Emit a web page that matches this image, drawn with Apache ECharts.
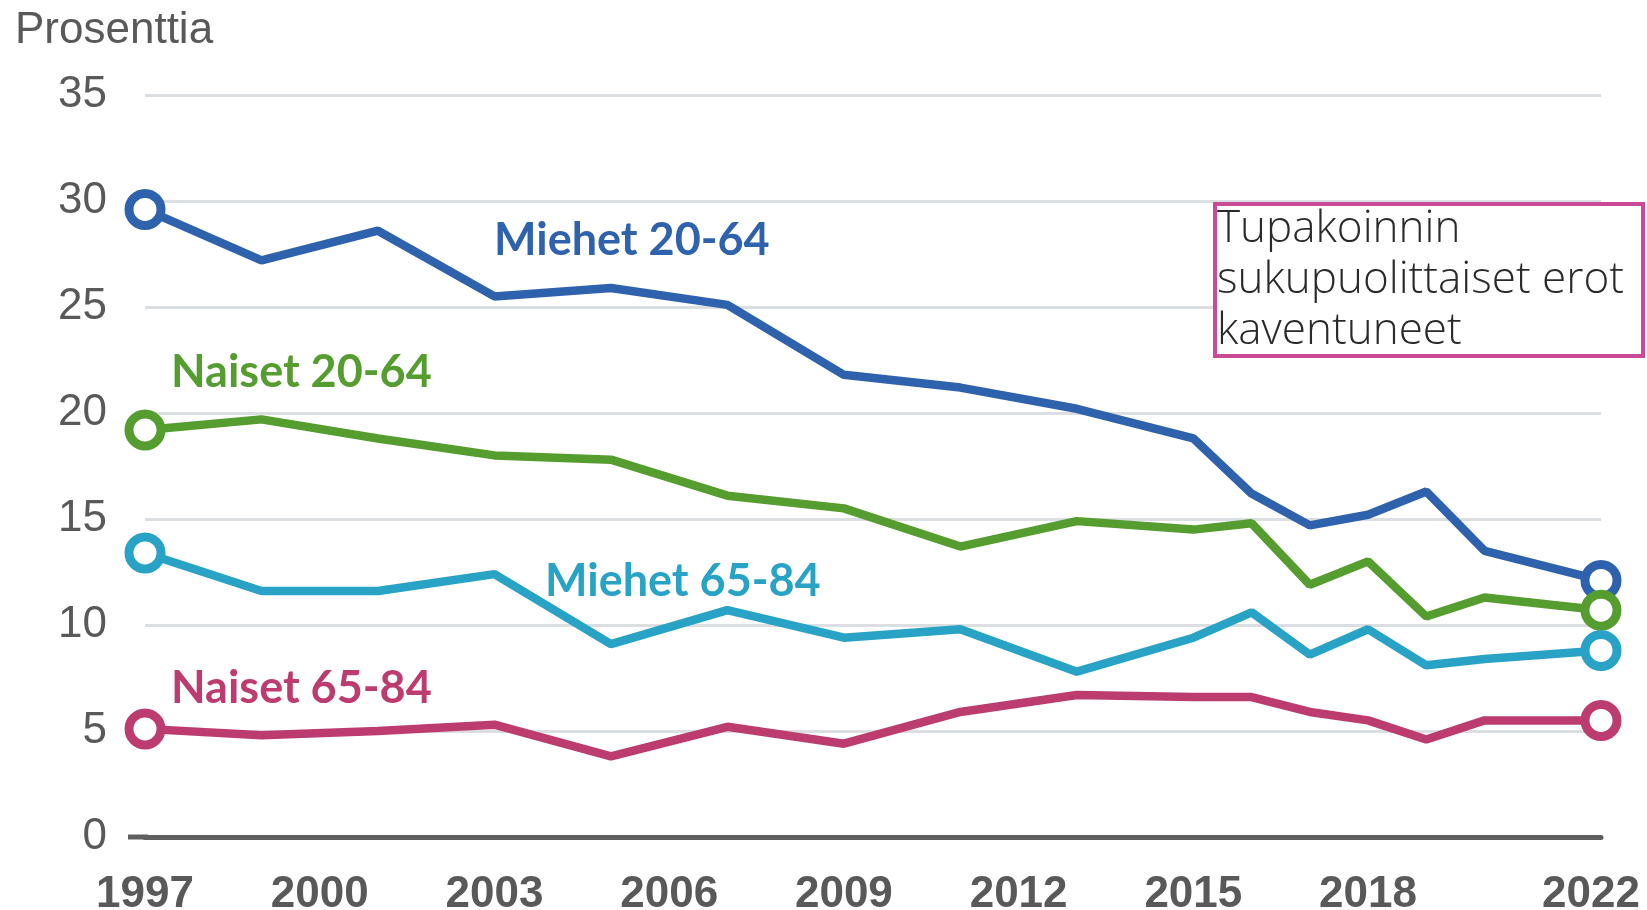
<!DOCTYPE html>
<html>
<head>
<meta charset="utf-8">
<script src="https://cdn.jsdelivr.net/npm/echarts@6/dist/echarts.min.js"></script>
<style>
  html, body { margin: 0; padding: 0; background: #ffffff; }
  #chart { width: 1647px; height: 910px; }
</style>
</head>
<body>
<div id="chart"></div>
<script>
const years = [1997, 1999, 2001, 2003, 2005, 2007, 2009, 2011, 2013, 2015, 2016, 2017, 2018, 2019, 2020, 2022]
const yearTicks = [1997, 2000, 2003, 2006, 2009, 2012, 2015, 2018, 2022]

const miehet2064 = [29.6, 27.2, 28.6, 25.5, 25.9, 25.1, 21.8, 21.2, 20.2, 18.8, 16.2, 14.7, 15.2, 16.3, 13.5, 12.1]
const naiset2064 = [19.2, 19.7, 18.8, 18.0, 17.8, 16.1, 15.5, 13.7, 14.9, 14.5, 14.8, 11.9, 13.0, 10.4, 11.3, 10.7]
const miehet6584 = [13.4, 11.6, 11.6, 12.4, 9.1, 10.7, 9.4, 9.8, 7.8, 9.4, 10.6, 8.6, 9.8, 8.1, 8.4, 8.8]
const naiset6584 = [5.1, 4.8, 5.0, 5.3, 3.8, 5.2, 4.4, 5.9, 6.7, 6.6, 6.6, 5.9, 5.5, 4.6, 5.5, 5.5]

const seriesDefs = [
  { name: 'Miehet 20-64', values: miehet2064, color: '#2f62ad' },
  { name: 'Naiset 20-64', values: naiset2064, color: '#559d2f' },
  { name: 'Miehet 65-84', values: miehet6584, color: '#28a3c6' },
  { name: 'Naiset 65-84', values: naiset6584, color: '#bd3c70' },
]

const chart = echarts.init(document.getElementById('chart'))

// only the first and last point get a ring marker
function endSymbol(value, params) {
  return params.dataIndex === 0 || params.dataIndex === years.length - 1 ? 'circle' : 'none'
}

const labelFont = 'Lato, "Noto Sans", sans-serif'

chart.setOption({
  animation: false,
  grid: { left: 145, right: 46, top: 95, bottom: 73, outerBoundsMode: 'none' },
  xAxis: {
    type: 'value',
    min: 1997,
    max: 2022,
    axisLine: { show: true, lineStyle: { color: '#5f5f5f', width: 5 } },
    axisTick: { show: false },
    splitLine: { show: false },
    axisLabel: {
      customValues: yearTicks,
      margin: 36,
      color: '#595959',
      fontSize: 44,
      fontWeight: 'bold',
      fontFamily: '"Liberation Sans", Arial, sans-serif',
      formatter: (v) => (v === 2022 ? '{last|' + v + '}' : String(v)),
      rich: {
        last: {
          fontSize: 44,
          fontWeight: 'bold',
          color: '#595959',
          fontFamily: '"Liberation Sans", Arial, sans-serif',
          padding: [0, 20, 0, 0],
        },
      },
    },
  },
  yAxis: {
    type: 'value',
    min: 0,
    max: 35,
    interval: 5,
    axisLine: { show: false },
    axisTick: { show: false },
    splitLine: { lineStyle: { color: '#dcdfe2', width: 3 } },
    axisLabel: {
      margin: 38,
      color: '#595959',
      fontSize: 44,
      fontFamily: '"Liberation Sans", Arial, sans-serif',
    },
  },
  series: seriesDefs.map((s) => ({
    type: 'line',
    name: s.name,
    data: years.map((y, i) => [y, s.values[i]]),
    symbol: endSymbol,
    symbolSize: 32,
    showAllSymbol: true,
    lineStyle: { color: s.color, width: 8.5 },
    itemStyle: { color: '#ffffff', borderColor: s.color, borderWidth: 9 },
    emphasis: { disabled: true },
  })),
  graphic: [
    // x axis line runs a bit past the first year on the left
    {
      type: 'rect',
      shape: { x: 128, y: 834.5, width: 20, height: 5 },
      style: { fill: '#5f5f5f' },
    },
    {
      type: 'text',
      left: 15,
      top: 9,
      style: {
        text: 'Prosenttia',
        fill: '#595959',
        font: '44px "Liberation Sans", Arial, sans-serif',
      },
    },
    {
      type: 'text',
      x: 494,
      y: 240,
      style: { text: 'Miehet 20-64', fill: '#2f62ad', font: 'bold 45px ' + labelFont, textVerticalAlign: 'middle' },
    },
    {
      type: 'text',
      x: 171,
      y: 372,
      style: { text: 'Naiset 20-64', fill: '#559d2f', font: 'bold 45px ' + labelFont, textVerticalAlign: 'middle' },
    },
    {
      type: 'text',
      x: 545,
      y: 581,
      style: { text: 'Miehet 65-84', fill: '#28a3c6', font: 'bold 45px ' + labelFont, textVerticalAlign: 'middle' },
    },
    {
      type: 'text',
      x: 171,
      y: 688,
      style: { text: 'Naiset 65-84', fill: '#bd3c70', font: 'bold 45px ' + labelFont, textVerticalAlign: 'middle' },
    },
    // annotation box
    {
      type: 'rect',
      shape: { x: 1215, y: 204, width: 428, height: 152 },
      style: { fill: '#ffffff', stroke: '#c94b97', lineWidth: 4 },
      z: 10,
    },
    {
      type: 'text',
      x: 1217,
      y: 204,
      z: 11,
      style: {
        text: 'Tupakoinnin\nsukupuolittaiset erot\nkaventuneet',
        fill: '#2a2a2a',
        font: '300 44px "Open Sans", Lato, sans-serif',
        lineHeight: 51,
      },
    },
  ],
})
</script>
</body>
</html>
